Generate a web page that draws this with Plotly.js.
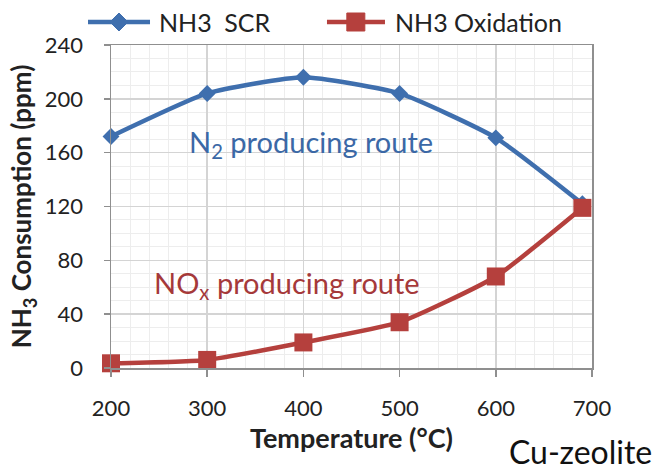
<!DOCTYPE html>
<html>
<head>
<meta charset="utf-8">
<script src="https://cdn.plot.ly/plotly-3.0.1.min.js"></script>
<style>html,body{margin:0;padding:0;background:#fff;}#chart{width:660px;height:474px;}</style>
</head>
<body>
<div id="chart"></div>
<script>
const temperatures = [200, 300, 400, 500, 600, 690];
const scrValues = [172, 204, 216, 204, 171, 122];
const oxidationValues = [3.5, 6, 19, 34, 68, 119];
const seriesNames = ["NH3 SCR", "NH3 Oxidation"];
const xTicks = [200, 300, 400, 500, 600, 700];
const yTicks = [0, 40, 80, 120, 160, 200, 240];

const FONT = "Lato, 'Open Sans', sans-serif";
const blue = "#3F6FAE";
const red = "#B5403D";

const traces = [
  {
    x: temperatures, y: scrValues, name: seriesNames[0], type: "scatter", mode: "lines+markers",
    line: {color: blue, width: 4.5, shape: "spline", smoothing: 0.5},
    marker: {symbol: "diamond", size: 13, color: blue}, showlegend: false, cliponaxis: false
  },
  {
    x: temperatures, y: oxidationValues, name: seriesNames[1], type: "scatter", mode: "lines+markers",
    line: {color: red, width: 4.5, shape: "spline", smoothing: 0.5},
    marker: {symbol: "square", size: 18, color: red}, showlegend: false, cliponaxis: false
  }
];

// legend drawn as decoration in paper coordinates
const legendY = 1.0712;
const legendItems = [
  {x0: -0.0478, x1: 0.0811, xm: 0.0166, tx: 0.0956, color: blue, name: seriesNames[0], sym: "diamond"},
  {x0: 0.449, x1: 0.5696, xm: 0.509, tx: 0.586, color: red, name: seriesNames[1], sym: "square"}
];
const legendShapes = [];
const legendTexts = [];
legendItems.forEach(it => {
  legendShapes.push({type: "line", xref: "paper", yref: "paper", x0: it.x0, x1: it.x1, y0: legendY, y1: legendY,
                     line: {color: it.color, width: 4.5}});
  const p = it.sym === "diamond" ? "M-9,0 L0,9 L9,0 L0,-9 Z" : "M-9,-9 L9,-9 L9,9 L-9,9 Z";
  legendShapes.push({type: "path", xref: "paper", yref: "paper", xsizemode: "pixel", ysizemode: "pixel",
                     xanchor: it.xm, yanchor: legendY, path: p, fillcolor: it.color, line: {color: it.color, width: 1}});
  legendTexts.push({x: it.tx, y: legendY, xref: "paper", yref: "paper", xanchor: "left", yanchor: "middle",
                    showarrow: false, text: it.name.replace(" SCR", "&#8194;SCR"), font: {size: 25, family: FONT, color: "#222"}});
});

const layout = {
  width: 660, height: 474,
  margin: {l: 111, r: 68, t: 45, b: 106},
  paper_bgcolor: "#fff", plot_bgcolor: "#fff",
  font: {family: FONT, color: "#222"},
  showlegend: false,
  xaxis: {
    range: [200, 700], tickvals: xTicks, ticktext: xTicks.map(String),
    showgrid: true, gridcolor: "#D4D4D4", gridwidth: 1.5,
    minor: {dtick: 20, tick0: 200, showgrid: true, gridcolor: "#EDEDED", gridwidth: 1, ticks: ""},
    showline: true, linecolor: "#8F8F8F", linewidth: 1.5, mirror: true,
    ticks: "outside", ticklen: 7, tickcolor: "#8F8F8F", tickwidth: 1.5,
    ticklabelstandoff: 13,
    tickfont: {size: 22, family: FONT, color: "#222"},
    zeroline: false,
    title: {text: "<b>Temperature (°C)</b>", font: {size: 27, family: FONT, color: "#222"}, standoff: 3}
  },
  yaxis: {
    range: [0, 240], tickvals: yTicks, ticktext: yTicks.map(String),
    showgrid: true, gridcolor: "#D4D4D4", gridwidth: 1.5,
    minor: {dtick: 10, tick0: 0, showgrid: true, gridcolor: "#EDEDED", gridwidth: 1, ticks: ""},
    showline: true, linecolor: "#8F8F8F", linewidth: 1.5, mirror: true,
    ticks: "outside", ticklen: 6, tickcolor: "#8F8F8F", tickwidth: 1.5,
    ticklabelstandoff: 16,
    tickfont: {size: 22, family: FONT, color: "#222"},
    zeroline: false,
    title: {text: "<b>NH<sub>3</sub> Consumption (ppm)</b>", font: {size: 26, family: FONT, color: "#222"}, standoff: 5}
  },
  shapes: legendShapes,
  annotations: [
    {x: 279, y: 167, xref: "x", yref: "y", xanchor: "left", yanchor: "middle", showarrow: false,
     text: "N<sub>2</sub> producing route", font: {size: 29, family: FONT, color: "#3B68A6"}},
    {x: 243, y: 62, xref: "x", yref: "y", xanchor: "left", yanchor: "middle", showarrow: false,
     text: "NO<sub>x</sub> producing route", font: {size: 29, family: FONT, color: "#A5393A"}},
    {x: 0.823, y: -0.257, xref: "paper", yref: "paper", xanchor: "left", yanchor: "middle", showarrow: false,
     text: "Cu-zeolite", font: {size: 32, family: FONT, color: "#111"}}
  ].concat(legendTexts)
};

Plotly.newPlot("chart", traces, layout, {displayModeBar: false, staticPlot: true});
</script>
</body>
</html>
